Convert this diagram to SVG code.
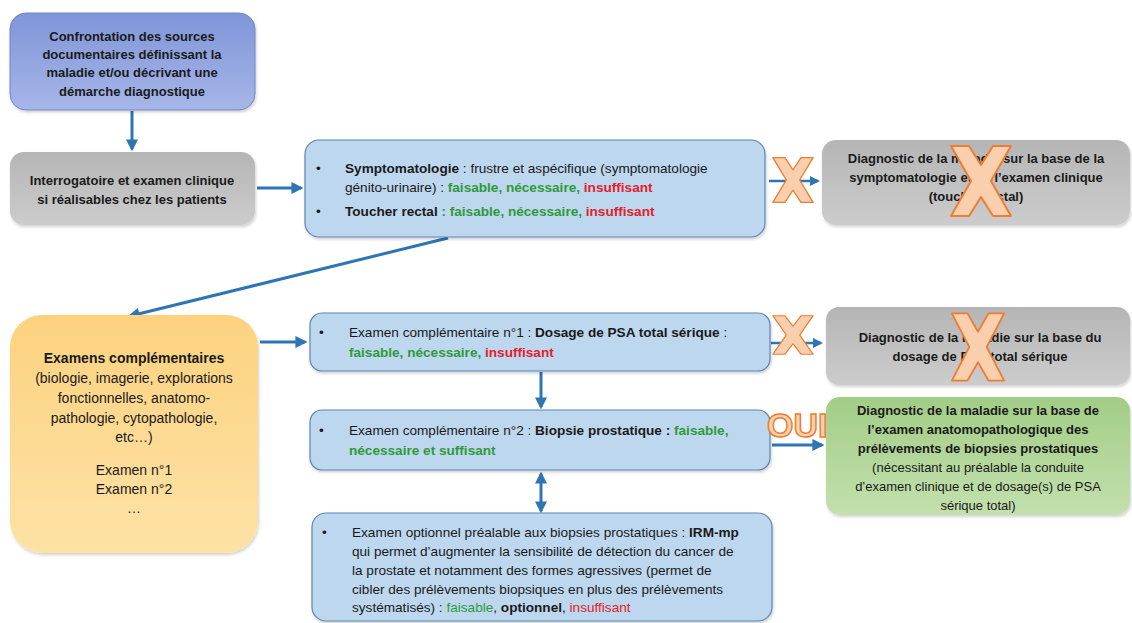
<svg xmlns="http://www.w3.org/2000/svg" width="1132" height="623" viewBox="0 0 1132 623">
<style>
text{font-family:"Liberation Sans",Arial,sans-serif;font-size:13px;fill:#1a1a1a}
.t{font-size:13.6px}
.o{font-size:14px}
.b{font-weight:bold}
.g{fill:#2f9a3a;font-weight:bold}
.r{fill:#e3202a;font-weight:bold}
.c{text-anchor:middle}
.blue{fill:#bdd7ee;stroke:#5b86b4;stroke-width:1.2}
.conn{stroke:#2e75b6;stroke-width:3;fill:none}
.xm{fill:#f9cfae;stroke:#ed7d31;stroke-width:2;stroke-linejoin:round}
</style>
<defs>
<linearGradient id="gb" x1="0" y1="0" x2="0" y2="1"><stop offset="0" stop-color="#7f95d8"/><stop offset="1" stop-color="#a6b6e8"/></linearGradient>
<linearGradient id="gg" x1="0" y1="0" x2="0" y2="1"><stop offset="0" stop-color="#b5b5b5"/><stop offset="1" stop-color="#cccccc"/></linearGradient>
<linearGradient id="go" x1="0" y1="0" x2="0" y2="1"><stop offset="0" stop-color="#fcd27f"/><stop offset="1" stop-color="#fde2a6"/></linearGradient>
<linearGradient id="gv" x1="0" y1="0" x2="0" y2="1"><stop offset="0" stop-color="#a2cd86"/><stop offset="1" stop-color="#c3e0ae"/></linearGradient>
<marker id="ah" viewBox="0 0 10 10" refX="8" refY="5" markerWidth="4" markerHeight="4" orient="auto-start-reverse"><path d="M0,0 L10,5 L0,10 z" fill="#2e75b6"/></marker>
<path id="X" d="M-30,-35 L-12,-35 L0,-16 L12,-35 L30,-35 L10,0 L30,35 L12,35 L0,16 L-12,35 L-30,35 L-10,0 Z"/>
<filter id="sh" x="-5%" y="-5%" width="110%" height="115%"><feDropShadow dx="1" dy="2" stdDeviation="1.5" flood-color="#000" flood-opacity="0.18"/></filter>
</defs>
<rect width="1132" height="623" fill="#fff"/>

<g id="connectors">
<line class="conn" x1="132" y1="111" x2="132" y2="149" marker-end="url(#ah)"/>
<line class="conn" x1="257" y1="188" x2="301" y2="188" marker-end="url(#ah)"/>
<line class="conn" x1="769" y1="181" x2="818" y2="181" marker-end="url(#ah)" style="stroke-width:2.5"/>
<line class="conn" x1="448" y1="238" x2="130" y2="316" marker-end="url(#ah)"/>
<line class="conn" x1="260" y1="342" x2="305" y2="342" marker-end="url(#ah)"/>
<line class="conn" x1="541" y1="372" x2="541" y2="407" marker-end="url(#ah)"/>
<line class="conn" x1="541" y1="474" x2="541" y2="511" marker-start="url(#ah)" marker-end="url(#ah)"/>
<line class="conn" x1="771" y1="343" x2="821" y2="343" marker-end="url(#ah)" style="stroke-width:2.5"/>
<line class="conn" x1="772" y1="445" x2="822" y2="445" marker-end="url(#ah)"/>
</g>

<g id="n1">
<rect x="10" y="13" width="245" height="97" rx="16" fill="url(#gb)" stroke="#6f86c8" filter="url(#sh)"/>
<text class="b c" x="132" y="41">Confrontation des sources</text>
<text class="b c" x="132" y="59">documentaires définissant la</text>
<text class="b c" x="132" y="77">maladie et/ou décrivant une</text>
<text class="b c" x="132" y="96">démarche diagnostique</text>
</g>

<g id="n2">
<rect x="10" y="152" width="245" height="73" rx="14" fill="url(#gg)" filter="url(#sh)"/>
<text class="b c" x="132" y="185">Interrogatoire et examen clinique</text>
<text class="b c" x="132" y="204">si réalisables chez les patients</text>
</g>

<g id="n3">
<rect class="blue" x="305" y="140" width="460" height="97" rx="14" filter="url(#sh)"/>
<text class="t" x="316" y="173">•</text>
<text class="t" x="345" y="173"><tspan class="b">Symptomatologie</tspan> : frustre et aspécifique (symptomatologie</text>
<text class="t" x="345" y="192">génito-urinaire) : <tspan class="g">faisable, nécessaire, </tspan><tspan class="r">insuffisant</tspan></text>
<text class="t" x="316" y="216">•</text>
<text class="t" x="345" y="216"><tspan class="b">Toucher rectal</tspan> <tspan class="g">: faisable, nécessaire, </tspan><tspan class="r">insuffisant</tspan></text>
</g>

<g id="n4">
<rect x="822" y="140" width="308" height="85" rx="14" fill="url(#gg)" filter="url(#sh)"/>
<text class="b c" x="976" y="163">Diagnostic de la maladie sur la base de la</text>
<text class="b c" x="976" y="182">symptomatologie et de l’examen clinique</text>
<text class="b c" x="976" y="201">(toucher rectal)</text>
<use href="#X" class="xm" transform="translate(981,181)"/>
</g>
<use href="#X" class="xm" transform="translate(793,180) scale(0.67,0.64)"/>

<g id="n5">
<rect x="10" y="315" width="248" height="238" rx="32" fill="url(#go)" filter="url(#sh)"/>
<text class="o b c" x="134" y="363">Examens complémentaires</text>
<text class="o c" x="134" y="383">(biologie, imagerie, explorations</text>
<text class="o c" x="134" y="403">fonctionnelles, anatomo-</text>
<text class="o c" x="134" y="423">pathologie, cytopathologie,</text>
<text class="o c" x="134" y="442">etc…)</text>
<text class="o c" x="134" y="475">Examen n°1</text>
<text class="o c" x="134" y="494">Examen n°2</text>
<text class="o c" x="134" y="513">…</text>
</g>

<g id="n6">
<rect class="blue" x="310" y="313" width="460" height="58" rx="12" filter="url(#sh)"/>
<text class="t" x="319" y="337">•</text>
<text class="t" x="349" y="337">Examen complémentaire n°1 : <tspan class="b">Dosage de PSA total sérique</tspan> :</text>
<text class="t" x="349" y="357"><tspan class="g">faisable, nécessaire, </tspan><tspan class="r">insuffisant</tspan></text>
</g>

<g id="n7">
<rect class="blue" x="310" y="410" width="460" height="60" rx="12" filter="url(#sh)"/>
<text class="t" x="319" y="435">•</text>
<text class="t" x="349" y="435">Examen complémentaire n°2 : <tspan class="b">Biopsie prostatique : </tspan><tspan class="g">faisable,</tspan></text>
<text class="t" x="349" y="455"><tspan class="g">nécessaire et suffisant</tspan></text>
</g>

<g id="n8">
<rect class="blue" x="312" y="513" width="460" height="108" rx="14" filter="url(#sh)"/>
<text class="t" x="322" y="537">•</text>
<text class="t" x="352" y="537">Examen optionnel préalable aux biopsies prostatiques : <tspan class="b">IRM-mp</tspan></text>
<text class="t" x="352" y="556">qui permet d’augmenter la sensibilité de détection du cancer de</text>
<text class="t" x="352" y="575">la prostate et notamment des formes agressives (permet de</text>
<text class="t" x="352" y="594">cibler des prélèvements biopsiques en plus des prélèvements</text>
<text class="t" x="352" y="612">systématisés) : <tspan style="fill:#2f9a3a">faisable</tspan>, <tspan class="b">optionnel</tspan>, <tspan class="r" style="font-weight:normal">insuffisant</tspan></text>
</g>

<g id="n9">
<rect x="826" y="307" width="304" height="78" rx="13" fill="url(#gg)" filter="url(#sh)"/>
<text class="b c" x="980" y="342">Diagnostic de la maladie sur la base du</text>
<text class="b c" x="980" y="361">dosage de PSA total sérique</text>
<use href="#X" class="xm" transform="translate(978,347) scale(0.87,0.96)"/>
</g>
<use href="#X" class="xm" transform="translate(793,335) scale(0.67,0.55)"/>

<text x="767" y="437" style="font-size:34px;font-weight:bold;fill:#fbd3b0;stroke:#ed7d31;stroke-width:1.5">OUI</text>

<g id="n10">
<rect x="826" y="397" width="304" height="118" rx="14" fill="url(#gv)" filter="url(#sh)"/>
<text class="b c" x="978" y="415">Diagnostic de la maladie sur la base de</text>
<text class="b c" x="978" y="434">l’examen anatomopathologique des</text>
<text class="b c" x="978" y="453">prélèvements de biopsies prostatiques</text>
<text class="c" x="978" y="472">(nécessitant au préalable la conduite</text>
<text class="c" x="978" y="491">d’examen clinique et de dosage(s) de PSA</text>
<text class="c" x="978" y="510">sérique total)</text>
</g>
</svg>
